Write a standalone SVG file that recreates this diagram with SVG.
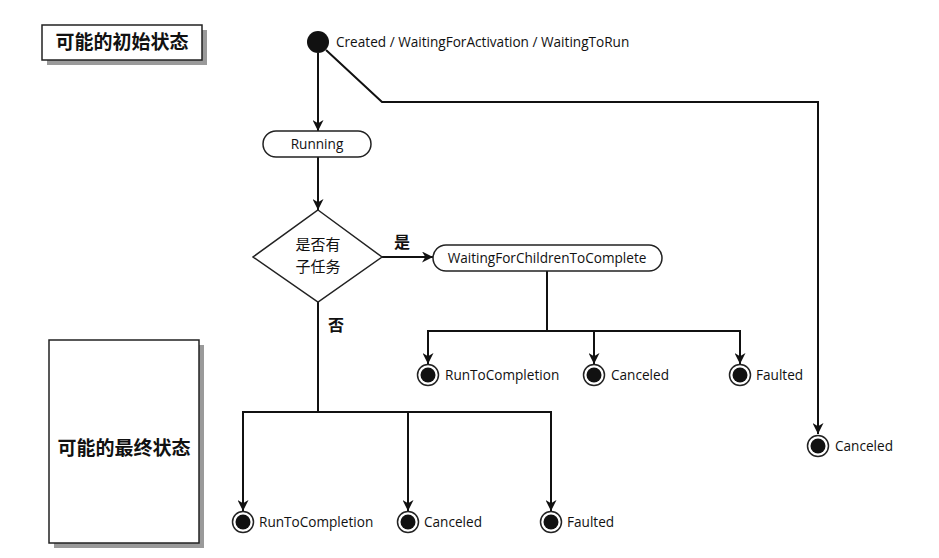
<svg xmlns="http://www.w3.org/2000/svg" width="939" height="558" viewBox="0 0 939 558">
<style>
.lbl{font-family:"Open Sans","Liberation Sans",sans-serif;font-size:13.6px;fill:#111}
.cjk{font-family:"Noto Sans CJK SC","Noto Sans",sans-serif;fill:#111}
.ln{fill:none;stroke:#111;stroke-width:2}
.box{fill:#fff;stroke:#222;stroke-width:1.5}
.shadow{fill:#9a9a9a}
.st{fill:#fff;stroke:#222;stroke-width:1.5}
</style>
<defs>
<marker id="ah2" viewBox="0 0 10 10" refX="10" refY="5" markerWidth="11" markerHeight="11" markerUnits="userSpaceOnUse" orient="auto">
<path d="M0,0 L10,5 L0,10 L3,5 Z" fill="#111"/>
</marker>
<g id="final">
<circle r="10.5" fill="#fff" stroke="#222" stroke-width="1.5"/>
<circle r="7.5" fill="#111"/>
</g>
</defs>
<rect width="939" height="558" fill="#fff"/>

<g id="legend-initial">
<rect class="shadow" x="47" y="30" width="160" height="35"/>
<rect class="box" x="42" y="25" width="160" height="35"/>
<text class="cjk" x="122" y="49" font-size="19" font-weight="bold" text-anchor="middle">可能的初始状态</text>
</g>

<g id="legend-final">
<rect class="shadow" x="54" y="345" width="150" height="203"/>
<rect class="box" x="49" y="340" width="150" height="203"/>
<text class="cjk" x="124" y="455" font-size="19" font-weight="bold" text-anchor="middle">可能的最终状态</text>
</g>

<g id="connectors">
<path class="ln" d="M318,53 V131" marker-end="url(#ah2)"/>
<path class="ln" d="M326,50 L382,102 H818 V434" marker-end="url(#ah2)"/>
<path class="ln" d="M318,157 V210" marker-end="url(#ah2)"/>
<path class="ln" d="M382,257 H433" marker-end="url(#ah2)"/>
<path class="ln" d="M547,270 V331"/>
<path class="ln" d="M428,364 V331 H740 V364" marker-end="url(#ah2)"/>
<path class="ln" d="M594,331 V364" marker-end="url(#ah2)"/>
<path class="ln" d="M428,331 V364" marker-end="url(#ah2)"/>
<path class="ln" d="M318,302 V412"/>
<path class="ln" d="M243,511 V412 H551 V511" marker-end="url(#ah2)"/>
<path class="ln" d="M243,412 V511" marker-end="url(#ah2)"/>
<path class="ln" d="M408,412 V511" marker-end="url(#ah2)"/>
<text class="cjk" x="402" y="248" font-size="16" font-weight="bold" text-anchor="middle">是</text>
<text class="cjk" x="336" y="331" font-size="16" font-weight="bold" text-anchor="middle">否</text>
</g>

<g id="start">
<circle cx="318" cy="42" r="11" fill="#111"/>
<text class="lbl" x="336" y="47">Created / WaitingForActivation / WaitingToRun</text>
</g>

<g id="running">
<rect class="st" x="263" y="131" width="108" height="26" rx="13"/>
<text class="lbl" x="317" y="149" text-anchor="middle">Running</text>
</g>

<g id="decision">
<path class="st" d="M318,210 L382,257 L318,302 L253,257 Z"/>
<text class="cjk" x="318" y="250" font-size="15" text-anchor="middle">是否有</text>
<text class="cjk" x="318" y="272" font-size="15" text-anchor="middle">子任务</text>
</g>

<g id="waiting-children">
<rect class="st" x="433" y="245" width="229" height="26" rx="13"/>
<text class="lbl" x="547" y="263" text-anchor="middle">WaitingForChildrenToComplete</text>
</g>

<g id="child-run"><use href="#final" x="428" y="375"/><text class="lbl" x="445" y="380">RunToCompletion</text></g>
<g id="child-canceled"><use href="#final" x="594" y="375"/><text class="lbl" x="611" y="380">Canceled</text></g>
<g id="child-faulted"><use href="#final" x="740" y="375"/><text class="lbl" x="756" y="380">Faulted</text></g>

<g id="run"><use href="#final" x="243" y="522"/><text class="lbl" x="259" y="527">RunToCompletion</text></g>
<g id="canceled"><use href="#final" x="408" y="522"/><text class="lbl" x="424" y="527">Canceled</text></g>
<g id="faulted"><use href="#final" x="551" y="522"/><text class="lbl" x="567" y="527">Faulted</text></g>

<g id="canceled-initial"><use href="#final" x="818" y="446"/><text class="lbl" x="835" y="451">Canceled</text></g>
</svg>
